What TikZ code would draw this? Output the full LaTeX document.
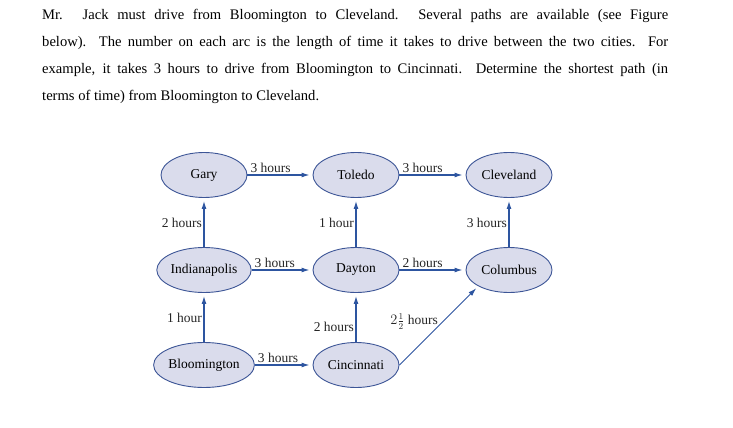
\documentclass[tikz,border=0pt]{standalone}
\usepackage{fontspec}
\setmainfont{Liberation Serif}
\usetikzlibrary{arrows.meta,shapes.geometric}
\definecolor{cityfill}{RGB}{218,220,236}
\definecolor{cityline}{RGB}{60,85,150}
\definecolor{arr}{RGB}{45,85,160}
\begin{document}
\begin{tikzpicture}[x=1pt,y=-1pt,
  city/.style={ellipse,draw=cityline,fill=cityfill,line width=0.9pt,minimum width=86pt,minimum height=45pt,inner sep=0pt,font=\fontsize{13.5}{15}\selectfont},
  road/.style={draw=arr,line width=1.2pt,-{Latex[length=8pt,width=5pt]},shorten >=3pt},
  lab/.style={font=\fontsize{13.5}{15}\selectfont,inner sep=1.5pt,text=black!85},
  top/.style={lab,pos=0,anchor=south west,xshift=1pt}]
\useasboundingbox (0,0) rectangle (733,428);
\node[anchor=north west,inner sep=0pt,text width=626pt,align=justify,font=\fontsize{14.6}{27}\selectfont] (txt) at (42,9)
{Mr. Jack must drive from Bloomington to Cleveland. Several paths are available (see Figure\linebreak
below). The number on each arc is the length of time it takes to drive between the two cities. For\linebreak
example, it takes 3 hours to drive from Bloomington to Cincinnati. Determine the shortest path (in\linebreak
terms of time) from Bloomington to Cleveland.};
\node[city] (gary) at (204,175) {Gary};
\node[city] (tol) at (356,175) {Toledo};
\node[city] (cle) at (509,175) {Cleveland};
\node[city] (ind) at (204,270) {Indianapolis};
\node[city] (day) at (356,270) {Dayton};
\node[city] (col) at (509,270) {Columbus};
\node[city] (blo) at (204,365) {Bloomington};
\node[city] (cin) at (356,365) {Cincinnati};
\draw[road] (gary) -- node[top]{3 hours} (tol);
\draw[road] (tol) -- node[top]{3 hours} (cle);
\draw[road] (ind) -- node[top]{3 hours} (day);
\draw[road] (day) -- node[top]{2 hours} (col);
\draw[road] (blo) -- node[top]{3 hours} (cin);
\draw[road] (ind) -- node[lab,left]{2 hours} (gary);
\draw[road] (day) -- node[lab,left]{1 hour} (tol);
\draw[road] (col) -- node[lab,left]{3 hours} (cle);
\draw[road] (blo) -- node[lab,left]{1 hour} (ind);
\draw[road] (cin) -- node[lab,left,pos=0.3]{2 hours} (day);
\draw[road,line width=0.8pt] (cin.east) -- node[lab,pos=0.55,anchor=east,xshift=-3pt]{$2\frac{1}{2}$ hours} (col.south west);
\end{tikzpicture}
\end{document}
